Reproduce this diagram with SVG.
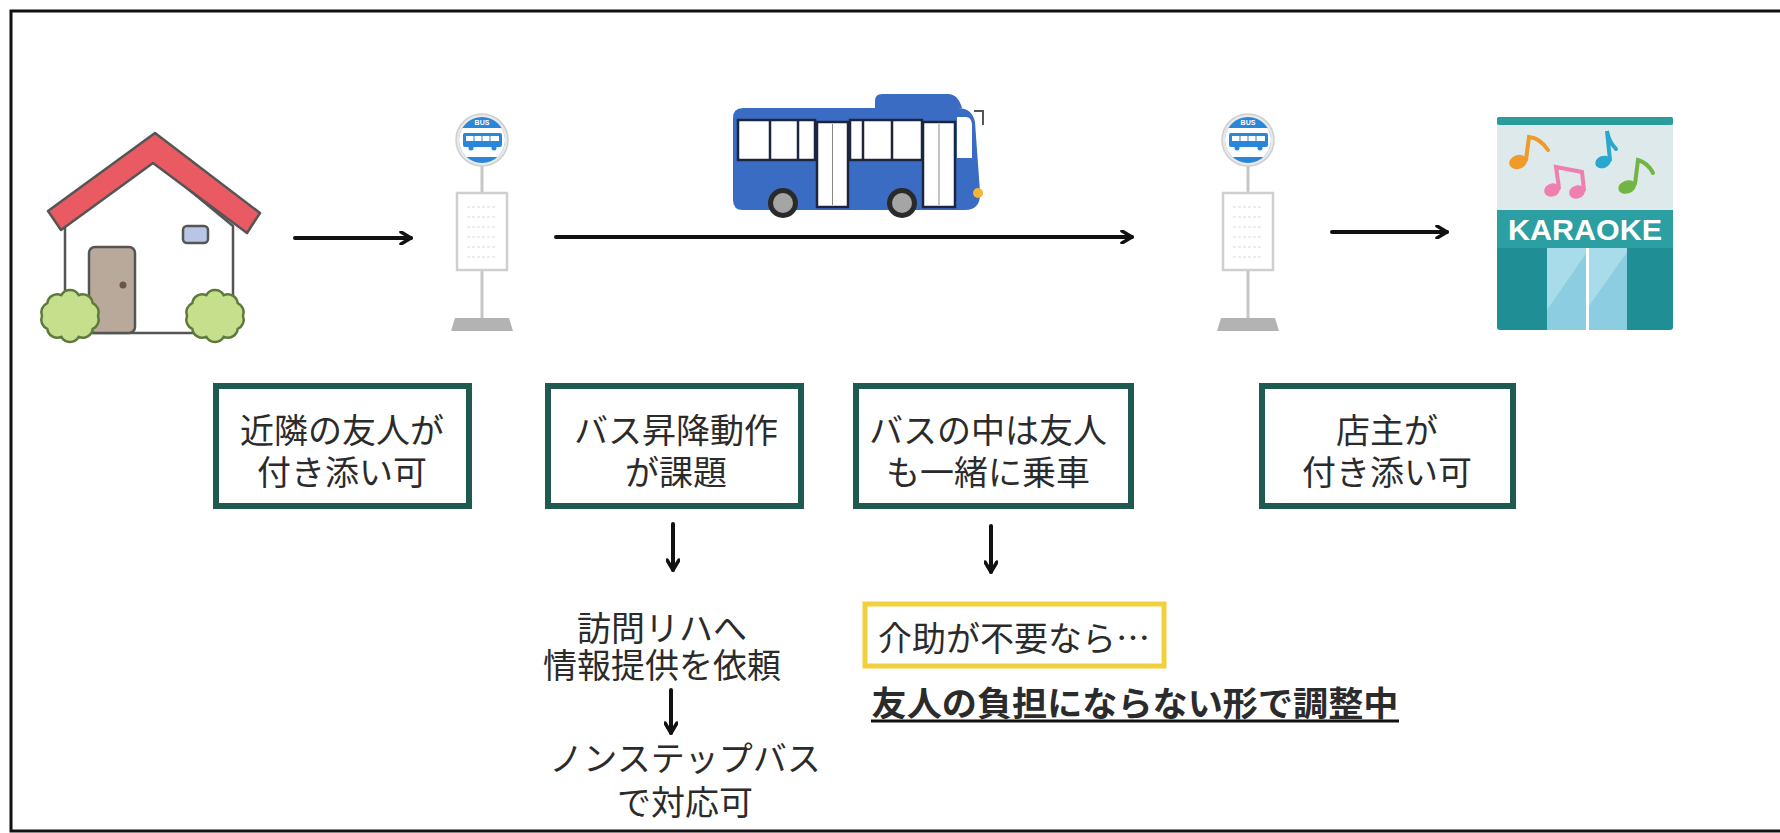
<svg xmlns="http://www.w3.org/2000/svg" width="1780" height="833" viewBox="0 0 1780 833">
  <style>
    .jp { font-family: "Noto Sans CJK JP", "Noto Sans", sans-serif; fill: #2b2b2b; }
    .box { fill: #ffffff; stroke: #1e5a50; stroke-width: 6; }
    .lbl { font-size: 34px; text-anchor: middle; dominant-baseline: central; }
    .conn { stroke: #111; stroke-width: 4; fill: none; stroke-linecap: round; }
    .outline { stroke: #555; stroke-width: 2.5; stroke-linejoin: round; }
    .busline { stroke: #1c2540; stroke-width: 2.5; }
  </style>
  <defs>
    <marker id="ah" viewBox="0 0 14 14" refX="12" refY="7" markerWidth="14" markerHeight="14" markerUnits="userSpaceOnUse" orient="auto">
      <path d="M2,1 L12,7 L2,13" fill="none" stroke="#111" stroke-width="3.5" stroke-linecap="round" stroke-linejoin="round"/>
    </marker>
    <clipPath id="signClip">
      <circle cx="0" cy="0" r="23"/>
    </clipPath>
    <g id="busStop">
      <!-- pole -->
      <line x1="482" y1="160" x2="482" y2="320" stroke="#c6c6c6" stroke-width="3"/>
      <!-- sign -->
      <g transform="translate(482,140)">
        <circle r="26" fill="#e9e9e9" stroke="#cfcfcf" stroke-width="1.5"/>
        <g clip-path="url(#signClip)">
          <rect x="-25" y="-25" width="50" height="50" fill="#2a86d8"/>
          <rect x="-25" y="-12" width="50" height="29" fill="#ffffff"/>
          <rect x="-19" y="-7" width="39" height="14" rx="2" fill="#2a86d8"/>
          <rect x="-16" y="-4" width="33" height="5" fill="#ffffff"/>
          <line x1="-8" y1="-4" x2="-8" y2="1" stroke="#2a86d8" stroke-width="1"/>
          <line x1="0" y1="-4" x2="0" y2="1" stroke="#2a86d8" stroke-width="1"/>
          <line x1="8" y1="-4" x2="8" y2="1" stroke="#2a86d8" stroke-width="1"/>
          <circle cx="-11" cy="8" r="2.5" fill="#2a86d8"/>
          <circle cx="12" cy="8" r="2.5" fill="#2a86d8"/>
        </g>
        <text x="0" y="-15" font-family="Liberation Sans, sans-serif" font-size="7" font-weight="bold" fill="#ffffff" text-anchor="middle">BUS</text>
      </g>
      <!-- timetable board -->
      <rect x="457" y="193" width="50" height="77" fill="#ffffff" stroke="#cfcfcf" stroke-width="2.5"/>
      <g stroke="#dadada" stroke-width="1" stroke-dasharray="3 2">
        <line x1="467" y1="207" x2="497" y2="207"/>
        <line x1="467" y1="217" x2="497" y2="217"/>
        <line x1="467" y1="227" x2="497" y2="227"/>
        <line x1="467" y1="237" x2="497" y2="237"/>
        <line x1="467" y1="247" x2="497" y2="247"/>
        <line x1="467" y1="257" x2="497" y2="257"/>
      </g>
      <!-- base -->
      <polygon points="451,331 455,318 509,318 513,331" fill="#b3b3b3"/>
    </g>
  </defs>

  <!-- frame -->
  <rect x="0" y="0" width="1780" height="833" fill="#ffffff"/>
  <rect x="11" y="11" width="1800" height="820" fill="#ffffff" stroke="#111" stroke-width="3"/>

  <!-- house -->
  <g id="house">
    <polygon points="65,224 153,160 233,226 233,333 65,333" fill="#ffffff" class="outline"/>
    <rect x="89" y="247" width="46" height="86" rx="6" fill="#b9a99b" class="outline"/>
    <circle cx="123" cy="285" r="3.5" fill="#6b5548"/>
    <rect x="183" y="226" width="25" height="17" rx="4" fill="#b7c6e4" class="outline"/>
    <polygon points="48,211 155,133 260,213 247,233 153,163 61,230" fill="#ea5a62" class="outline"/>
    <path d="M98,316 A10,10 0 0 1 92.7,328.9 A10,10 0 0 1 78.7,336.9 A10,10 0 0 1 61.3,336.9 A10,10 0 0 1 47.3,328.9 A10,10 0 0 1 42,316 A10,10 0 0 1 47.3,303.1 A10,10 0 0 1 61.3,295.1 A10,10 0 0 1 78.7,295.1 A10,10 0 0 1 92.7,303.1 A10,10 0 0 1 98,316 Z" fill="#c6df8d" stroke="#5d7a3c" stroke-width="2.5"/>
    <path d="M243,316 A10,10 0 0 1 237.7,328.9 A10,10 0 0 1 223.7,336.9 A10,10 0 0 1 206.3,336.9 A10,10 0 0 1 192.3,328.9 A10,10 0 0 1 187,316 A10,10 0 0 1 192.3,303.1 A10,10 0 0 1 206.3,295.1 A10,10 0 0 1 223.7,295.1 A10,10 0 0 1 237.7,303.1 A10,10 0 0 1 243,316 Z" fill="#c6df8d" stroke="#5d7a3c" stroke-width="2.5"/>
  </g>

  <!-- bus stops -->
  <g id="stop-departure">
    <use href="#busStop"/>
  </g>
  <g id="stop-arrival">
    <use href="#busStop" transform="translate(766,0)"/>
  </g>

  <!-- bus -->
  <g id="bus">
    <path d="M875,108 V101 Q875,94 882,94 H948 Q958,94 962,108 Z" fill="#3b6cc4"/>
    <path d="M743,108 H958 Q972,108 975,122 L980,192 Q981,210 965,210 H743 Q733,210 733,200 V118 Q733,108 743,108 Z" fill="#3b6cc4"/>
    <rect x="738" y="120" width="77" height="40" fill="#ffffff" class="busline"/>
    <line x1="770" y1="120" x2="770" y2="160" class="busline"/>
    <line x1="798" y1="120" x2="798" y2="160" class="busline"/>
    <rect x="817" y="122" width="31" height="85" fill="#ffffff" class="busline"/>
    <line x1="832.5" y1="124" x2="832.5" y2="205" stroke="#888" stroke-width="1"/>
    <rect x="850" y="120" width="72" height="40" fill="#ffffff" class="busline"/>
    <line x1="863" y1="120" x2="863" y2="160" class="busline"/>
    <line x1="892" y1="120" x2="892" y2="160" class="busline"/>
    <rect x="923" y="122" width="32" height="85" fill="#ffffff" class="busline"/>
    <line x1="939" y1="124" x2="939" y2="205" stroke="#888" stroke-width="1"/>
    <path d="M957,117 H966 Q971,117 972,124 V158 H957 Z" fill="#ffffff"/>
    <path d="M974,111 H983 V125" fill="none" stroke="#555" stroke-width="2"/>
    <circle cx="978" cy="193" r="5" fill="#f4b43a"/>
    <circle cx="783" cy="203" r="15" fill="#2a2a2a"/>
    <circle cx="783" cy="203" r="10" fill="#a5a5a5"/>
    <circle cx="902" cy="203" r="15" fill="#2a2a2a"/>
    <circle cx="902" cy="203" r="10" fill="#a5a5a5"/>
  </g>

  <!-- karaoke shop -->
  <g id="karaoke">
    <rect x="1497" y="117" width="176" height="213" rx="3" fill="#1f8f95"/>
    <rect x="1497" y="124" width="176" height="86" fill="#dde9ea"/>
    <rect x="1497" y="117" width="176" height="8" rx="2" fill="#2a9c9c"/>
    <rect x="1497" y="210" width="176" height="38" fill="#2b9fa1"/>
    <text x="1585" y="240" font-family="Liberation Sans, sans-serif" font-size="30" font-weight="bold" fill="#ffffff" text-anchor="middle" textLength="154" lengthAdjust="spacingAndGlyphs">KARAOKE</text>
    <rect x="1547" y="248" width="80" height="82" fill="#8ccde2"/>
    <polygon points="1547,248 1587,248 1587,252 1547,310" fill="#a9dcea"/>
    <polygon points="1589,248 1627,248 1627,252 1589,306" fill="#a9dcea"/>
    <line x1="1587.5" y1="248" x2="1587.5" y2="330" stroke="#ffffff" stroke-width="3"/>
    <!-- notes -->
    <g stroke-linecap="round" fill="none" stroke-width="4">
      <ellipse cx="1518" cy="162" rx="9" ry="7" fill="#ef9a2a" transform="rotate(-20 1518 162)"/>
      <path d="M1526,160 L1529,137 Q1540,138 1548,150" stroke="#ef9a2a"/>
      <ellipse cx="1552" cy="190" rx="8" ry="6.5" fill="#ee7fb0" transform="rotate(-20 1552 190)"/>
      <ellipse cx="1577" cy="192" rx="8" ry="6.5" fill="#ee7fb0" transform="rotate(-20 1577 192)"/>
      <path d="M1559,188 L1556,167 L1582,172 L1584,190" stroke="#ee7fb0"/>
      <ellipse cx="1603" cy="162" rx="8" ry="6" fill="#2aa7cc" transform="rotate(-20 1603 162)"/>
      <path d="M1610,160 L1607,131 Q1609,142 1616,149" stroke="#2aa7cc"/>
      <ellipse cx="1627" cy="187" rx="9" ry="6.5" fill="#72b544" transform="rotate(-20 1627 187)"/>
      <path d="M1635,184 L1638,160 Q1648,163 1653,173" stroke="#72b544"/>
    </g>
  </g>

  <!-- connectors -->
  <g id="connectors">
    <line x1="295" y1="238" x2="411" y2="238" class="conn" marker-end="url(#ah)"/>
    <line x1="556" y1="237" x2="1132" y2="237" class="conn" marker-end="url(#ah)"/>
    <line x1="1332" y1="232" x2="1447" y2="232" class="conn" marker-end="url(#ah)"/>
    <line x1="673" y1="524" x2="673" y2="570" class="conn" marker-end="url(#ah)"/>
    <line x1="991" y1="526" x2="991" y2="572" class="conn" marker-end="url(#ah)"/>
    <line x1="671" y1="690" x2="671" y2="733" class="conn" marker-end="url(#ah)"/>
  </g>

  <!-- labelled boxes -->
  <g id="box-neighbor">
    <rect x="216" y="386" width="253" height="120" class="box"/>
    <text class="jp lbl"><tspan x="342" y="428">近隣の友人が</tspan><tspan x="342" y="470">付き添い可</tspan></text>
  </g>
  <g id="box-boarding">
    <rect x="548" y="386" width="253" height="120" class="box"/>
    <text class="jp lbl"><tspan x="676" y="428">バス昇降動作</tspan><tspan x="676" y="470">が課題</tspan></text>
  </g>
  <g id="box-onboard">
    <rect x="856" y="386" width="275" height="120" class="box"/>
    <text class="jp lbl"><tspan x="988" y="428">バスの中は友人</tspan><tspan x="988" y="470">も一緒に乗車</tspan></text>
  </g>
  <g id="box-owner">
    <rect x="1262" y="386" width="251" height="120" class="box"/>
    <text class="jp lbl"><tspan x="1387" y="428">店主が</tspan><tspan x="1387" y="470">付き添い可</tspan></text>
  </g>

  <!-- follow-up notes -->
  <g id="note-rehab">
    <text class="jp lbl"><tspan x="662" y="626">訪問リハへ</tspan><tspan x="662" y="663">情報提供を依頼</tspan></text>
  </g>
  <g id="note-nonstep">
    <text class="jp lbl"><tspan x="685" y="756">ノンステップバス</tspan><tspan x="685" y="800">で対応可</tspan></text>
  </g>
  <g id="note-assist">
    <rect x="865" y="604" width="299" height="62" fill="#ffffff" stroke="#f2cf3d" stroke-width="5"/>
    <text class="jp lbl" x="1014" y="636">介助が不要なら…</text>
  </g>
  <g id="note-adjust">
    <text class="jp lbl" x="1135" y="701" font-weight="bold" fill="#111" textLength="527" lengthAdjust="spacingAndGlyphs">友人の負担にならない形で調整中</text>
    <line x1="871" y1="721" x2="1399" y2="721" stroke="#111" stroke-width="3"/>
  </g>
</svg>
